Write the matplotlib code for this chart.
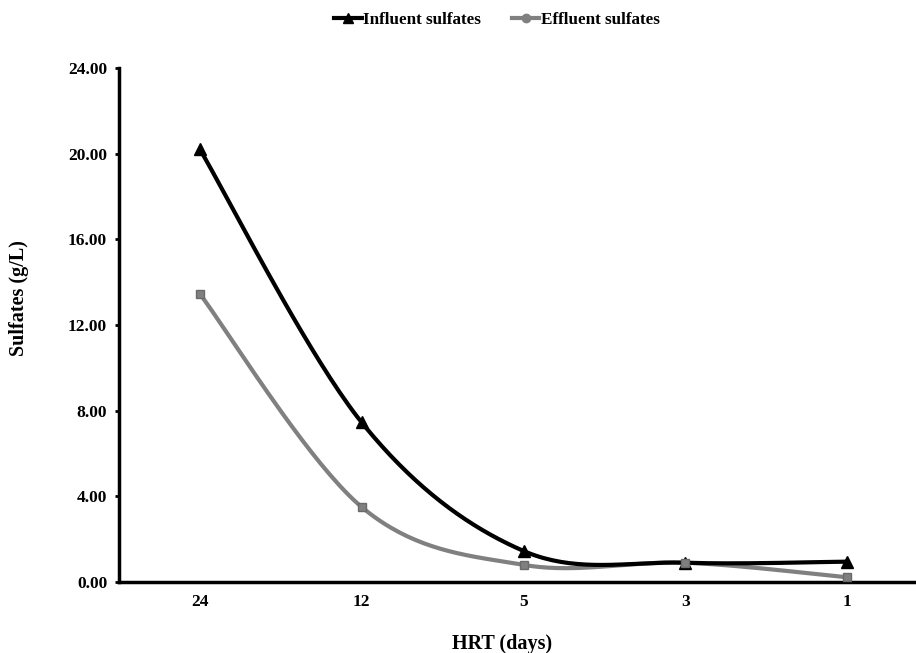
import numpy as np
import matplotlib
matplotlib.use("Agg")
import matplotlib.pyplot as plt
from matplotlib.lines import Line2D

categories = ["24", "12", "5", "3", "1"]
influent = [20.2, 7.45, 1.45, 0.9, 0.95]
effluent = [13.45, 3.5, 0.8, 0.9, 0.22]
yticks = [0, 4, 8, 12, 16, 20, 24]

plt.rcParams['font.family'] = ['Liberation Serif', 'DejaVu Serif']
plt.rcParams['font.weight'] = 'bold'

def smooth(xs, ys, n=40):
    # Bezier smoothing through the points (Catmull-Rom style, like spreadsheet "smoothed line")
    xs = np.asarray(xs, float); ys = np.asarray(ys, float)
    P = np.column_stack([xs, ys])
    out = []
    for i in range(len(P) - 1):
        p0 = P[i - 1] if i > 0 else P[i]
        p1 = P[i]; p2 = P[i + 1]
        p3 = P[i + 2] if i + 2 < len(P) else P[i + 1]
        c1 = p1 + (p2 - p0) / 6.0
        c2 = p2 - (p3 - p1) / 6.0
        t = np.linspace(0, 1, n)[:, None]
        seg = ((1 - t) ** 3) * p1 + 3 * ((1 - t) ** 2) * t * c1 + 3 * (1 - t) * t ** 2 * c2 + t ** 3 * p2
        out.append(seg if i == 0 else seg[1:])
    s = np.vstack(out)
    return s[:, 0], s[:, 1]

fig = plt.figure(figsize=(9.16, 6.53), dpi=100)
ax = fig.add_axes([119 / 916, 1 - 582 / 653, (928 - 119) / 916, (582 - 68) / 653])

x = np.arange(len(categories))
sx, sy = smooth(x, influent)
ax.plot(sx, sy, color='black', lw=3, solid_capstyle='round', zorder=3)
ax.plot(x, influent, linestyle='none', marker='^', ms=9, color='black', zorder=4)
sx, sy = smooth(x, effluent)
ax.plot(sx, sy, color='#808080', lw=3, solid_capstyle='round', zorder=2)
ax.plot(x, effluent, linestyle='none', marker='s', ms=6, color='#808080',
        markeredgecolor='#6a6a6a', zorder=4)

ax.set_xlim(-0.5, 4.5)
ax.set_ylim(0, 24)
ax.set_yticks(yticks)
ax.set_yticklabels([f"{v:.2f}" for v in yticks], fontsize=12.5, fontweight='bold')
ax.set_xticks(x)
ax.set_xticklabels(categories, fontsize=12.5, fontweight='bold')
ax.tick_params(axis='x', length=0, pad=9)
ax.tick_params(axis='y', length=3, width=2, direction='out', pad=5.5)
for s in ['top', 'right']:
    ax.spines[s].set_visible(False)
for s in ['left', 'bottom']:
    ax.spines[s].set_linewidth(2.5)

fig.text(19 / 916, 1 - 298 / 653, "Sulfates (g/L)", rotation=90, ha='center', va='center',
         fontsize=14.5, fontweight='bold')
fig.text(502 / 916, 1 - 644 / 653, "HRT (days)", ha='center', va='center',
         fontsize=14.5, fontweight='bold')

handles = [Line2D([0], [0], color='black', lw=3, marker='^', ms=7),
           Line2D([0], [0], color='#808080', lw=3, marker='o', ms=6)]
fig.legend(handles, ["Influent sulfates", "Effluent sulfates"], loc='center',
           bbox_to_anchor=(497 / 916, 1 - 20 / 653), ncol=2, frameon=False,
           handlelength=1.6, handletextpad=0.1, columnspacing=1.8,
           prop={'family': 'Liberation Serif', 'weight': 'bold', 'size': 12.3})

fig.savefig("out.png", dpi=100)
